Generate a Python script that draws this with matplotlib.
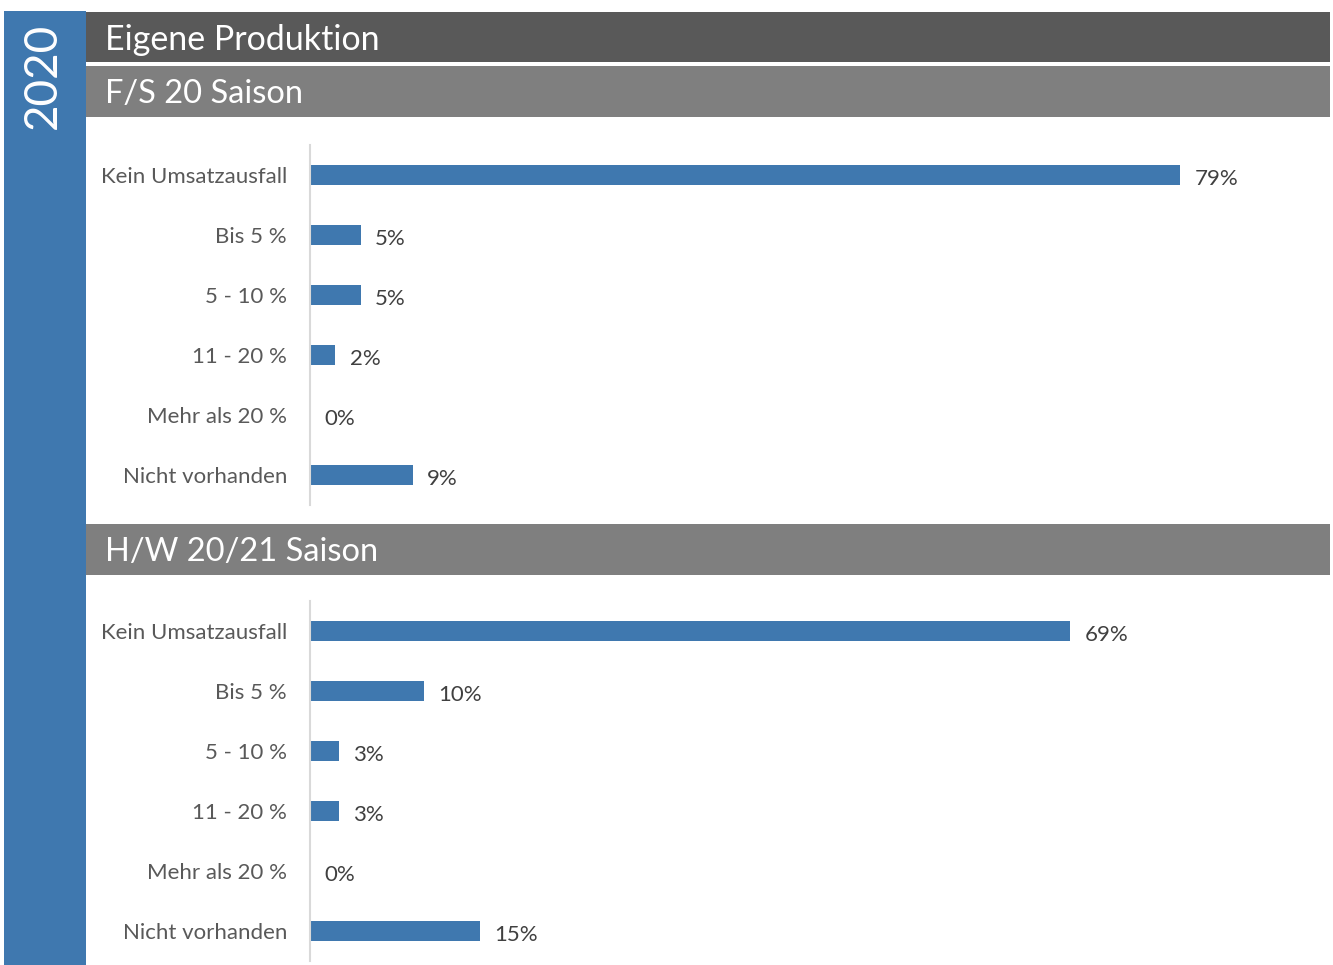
import matplotlib
matplotlib.use('Agg')
import matplotlib.pyplot as plt
from matplotlib.patches import Rectangle

# Data
categories = ['Kein Umsatzausfall', 'Bis 5 %', '5 - 10 %', '11 - 20 %',
              'Mehr als 20 %', 'Nicht vorhanden']
fs20_values = [78.9, 4.6, 4.6, 2.3, 0.0, 9.3]
hw2021_values = [68.9, 10.3, 2.6, 2.6, 0.0, 15.4]

year_label = '2020'
main_title = 'Eigene Produktion'
section_titles = ['F/S 20 Saison', 'H/W 20/21 Saison']

BLUE = '#3f78af'
DARK = '#595959'
GRAY = '#7f7f7f'
W, H = 1333, 965
PX_PER_PCT = 11.03

plt.rcParams['font.family'] = ['Lato', 'DejaVu Sans']

fig = plt.figure(figsize=(W / 100, H / 100), dpi=100)
fig.patch.set_facecolor('white')


def px_rect(x0, y0, x1, y1):
    """Pixel box (top-left origin) -> figure fraction rect."""
    return [x0 / W, 1 - y1 / H, (x1 - x0) / W, (y1 - y0) / H]


def add_box(x0, y0, x1, y1, color):
    l, b, w, h = px_rect(x0, y0, x1, y1)
    fig.patches.append(Rectangle((l, b), w, h, transform=fig.transFigure,
                                 facecolor=color, edgecolor='none', zorder=0))


# side banner and headers
add_box(4, 11, 86, 965, BLUE)
fig.text(43 / W, 1 - 76 / H, year_label, rotation=90, color='white',
         fontsize=33, ha='center', va='center')

add_box(86, 12, 1330, 62, DARK)
fig.text(105 / W, 1 - 40 / H, main_title, color='white', fontsize=24.5,
         ha='left', va='center')

add_box(86, 66, 1330, 117, GRAY)
fig.text(105 / W, 1 - 94 / H, section_titles[0], color='white', fontsize=23.5,
         ha='left', va='center')

add_box(86, 524, 1330, 575, GRAY)
fig.text(105 / W, 1 - 552 / H, section_titles[1], color='white', fontsize=23.5,
         ha='left', va='center')


def draw_chart(values, top_px, bottom_px):
    ax = fig.add_axes(px_rect(310, top_px, 1330, bottom_px))
    ax.set_facecolor('none')
    y = list(range(len(categories)))
    ax.barh(y, values, height=0.34, color=BLUE)
    ax.set_xlim(0, 1020 / PX_PER_PCT)
    ax.set_ylim(len(categories) - 0.5, -0.5)
    ax.set_yticks(y)
    ax.set_yticklabels(categories, fontsize=16, color=DARK)
    ax.tick_params(axis='y', length=0, pad=16.5)
    ax.set_xticks([])
    for s in ['top', 'right', 'bottom']:
        ax.spines[s].set_visible(False)
    ax.spines['left'].set_color('#d9d9d9')
    ax.spines['left'].set_linewidth(1.5)
    for yi, v in zip(y, values):
        ax.text(v + 1.3, yi + 0.06, f'{v:.0f}%', fontsize=16, color='#404040',
                ha='left', va='center')
    return ax


draw_chart(fs20_values, 145, 505)
draw_chart(hw2021_values, 601, 961)

fig.savefig('out.png', dpi=100, facecolor='white')
